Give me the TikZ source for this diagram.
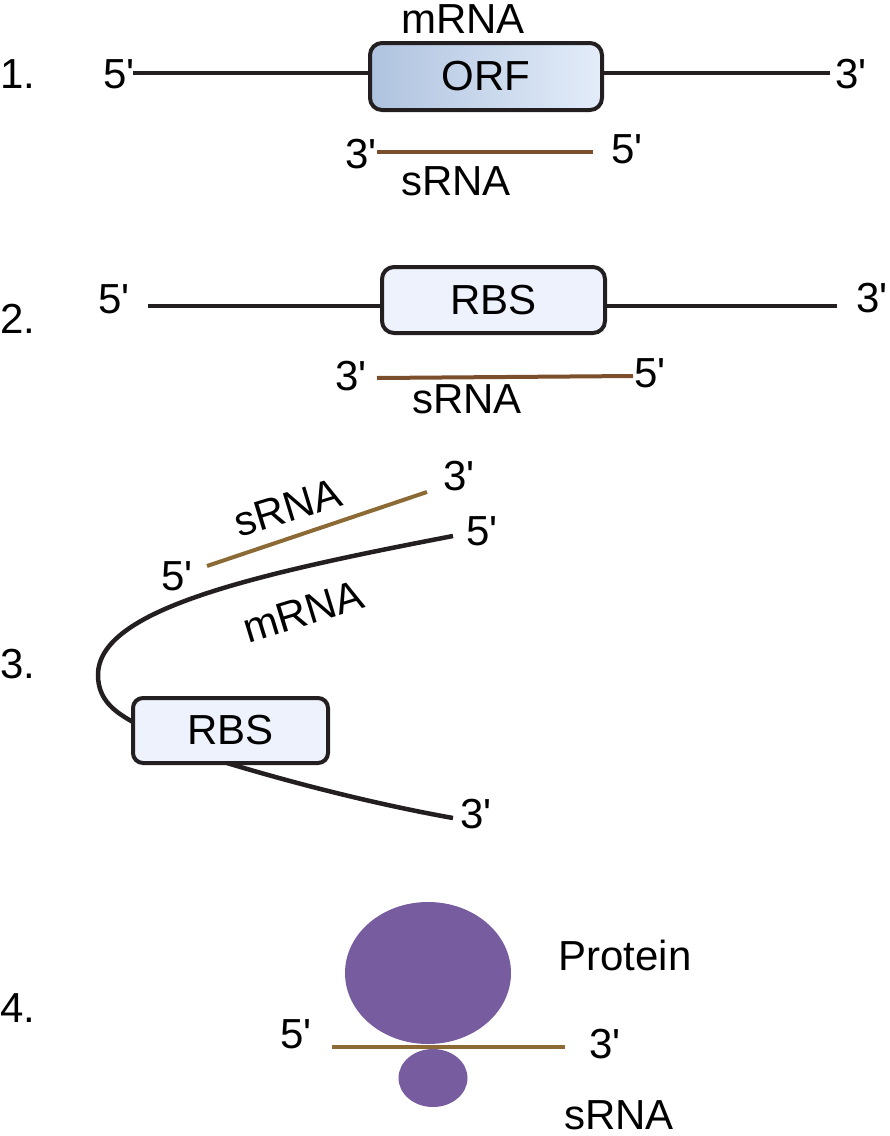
\documentclass[tikz,border=0pt]{standalone}
\usepackage{fontspec}
\setmainfont{Liberation Sans}[Ligatures=TeXOff]
\usetikzlibrary{shapes.geometric}
\definecolor{mrnac}{HTML}{231F20}
\definecolor{srnaA}{HTML}{7B4F2B}
\definecolor{srnaB}{HTML}{8B6A35}
\definecolor{purp}{HTML}{775CA0}
\definecolor{boxfill}{HTML}{EDF2FC}
\definecolor{orfL}{HTML}{AFC3DF}
\definecolor{orfR}{HTML}{E3ECF9}
\begin{document}
\begin{tikzpicture}[x=1pt,y=-1pt,
  lbl/.style={font=\fontsize{42}{50}\selectfont, inner sep=0pt, anchor=base},
  num/.style={lbl, anchor=base west},
  rna/.style={line width=4.5pt, draw=mrnac},
  srnaone/.style={line width=4pt, draw=srnaA},
  srnatwo/.style={line width=4pt, draw=srnaB},
  genebox/.style={draw=mrnac, line width=4pt, rounded corners=12pt, inner sep=0pt,
    font=\fontsize{42}{50}\selectfont},
  blob/.style={ellipse, fill=purp, inner sep=0pt, draw=none}
]
\useasboundingbox (0,0) rectangle (890,1136);

% ---------- Panel 1 ----------
\node[num] (n1) at (0,88) {1.};
\node[genebox, minimum width=232pt, minimum height=67pt, left color=orfL, right color=orfR] (orf) at (486,76.5) {ORF};
\coordinate (p1a) at (133,73);
\coordinate (p1b) at (830,73);
\draw[rna] (p1a) -- (orf.west |- p1a);
\draw[rna] (orf.east |- p1b) -- (p1b);
\node[lbl] (p1five) at (119,88) {5'};
\node[lbl] (p1three) at (851,88) {3'};
\node[lbl] (p1mrna) at (463,33) {mRNA};
\coordinate (s1a) at (377,152);
\coordinate (s1b) at (593,152);
\draw[srnaone] (s1a) -- (s1b);
\node[lbl] (s1three) at (361,168) {3'};
\node[lbl] (s1five) at (627,163) {5'};
\node[lbl] (s1lab) at (456,195) {sRNA};

% ---------- Panel 2 ----------
\node[num] (n2) at (0,333) {2.};
\node[genebox, minimum width=223pt, minimum height=66pt, fill=boxfill] (rbs2) at (493.5,300) {RBS};
\coordinate (p2a) at (148,306);
\coordinate (p2b) at (837,306);
\draw[rna] (p2a) -- (rbs2.west |- p2a);
\draw[rna] (rbs2.east |- p2b) -- (p2b);
\node[lbl] (p2five) at (114,313) {5'};
\node[lbl] (p2three) at (872,312) {3'};
\coordinate (s2a) at (377,378);
\coordinate (s2b) at (633,376);
\draw[srnaone] (s2a) -- (s2b);
\node[lbl] (s2three) at (351,390) {3'};
\node[lbl] (s2five) at (650,387) {5'};
\node[lbl] (s2lab) at (467,413) {sRNA};

% ---------- Panel 3 ----------
\node[num] (n3) at (0,678) {3.};
\coordinate (m3a) at (453,536);
\coordinate (m3b) at (133,722);
\coordinate (m3c) at (227,763);
\coordinate (m3d) at (453,818);
\draw[rna] (m3a) .. controls (250,575) and (98,610) .. (98,675)
  .. controls (98,700) and (115,712) .. (m3b);
\draw[rna] (m3c) .. controls (300,785) and (380,805) .. (m3d);
\node[genebox, rounded corners=10pt, minimum width=195pt, minimum height=65pt, fill=boxfill] (rbs3) at (230.5,730.5) {RBS};
\coordinate (s3a) at (207,566);
\coordinate (s3b) at (427,492);
\draw[srnatwo] (s3a) -- (s3b);
\node[lbl] (s3three) at (459,490) {3'};
\node[lbl] (s3five) at (177,590) {5'};
\node[lbl] (m3five) at (482,545) {5'};
\node[lbl] (m3three) at (476,828) {3'};
\node[lbl, anchor=center, rotate=17] (s3lab) at (288,508) {sRNA};
\node[lbl, anchor=center, rotate=17] (m3lab) at (303,612) {mRNA};

% ---------- Panel 4 ----------
\node[num] (n4) at (0,1022) {4.};
\node[blob, minimum width=166pt, minimum height=142pt] (prot) at (428,973) {};
\node[blob, minimum width=69pt, minimum height=58pt] (small) at (433,1078) {};
\coordinate (s4a) at (332,1047);
\coordinate (s4b) at (565,1047);
\draw[srnatwo] (s4a) -- (s4b);
\node[lbl] (s4five) at (296,1048) {5'};
\node[lbl] (s4three) at (605,1058) {3'};
\node[lbl] (protlab) at (625,970) {Protein};
\node[lbl] (s4lab) at (619,1129) {sRNA};
\end{tikzpicture}
\end{document}
